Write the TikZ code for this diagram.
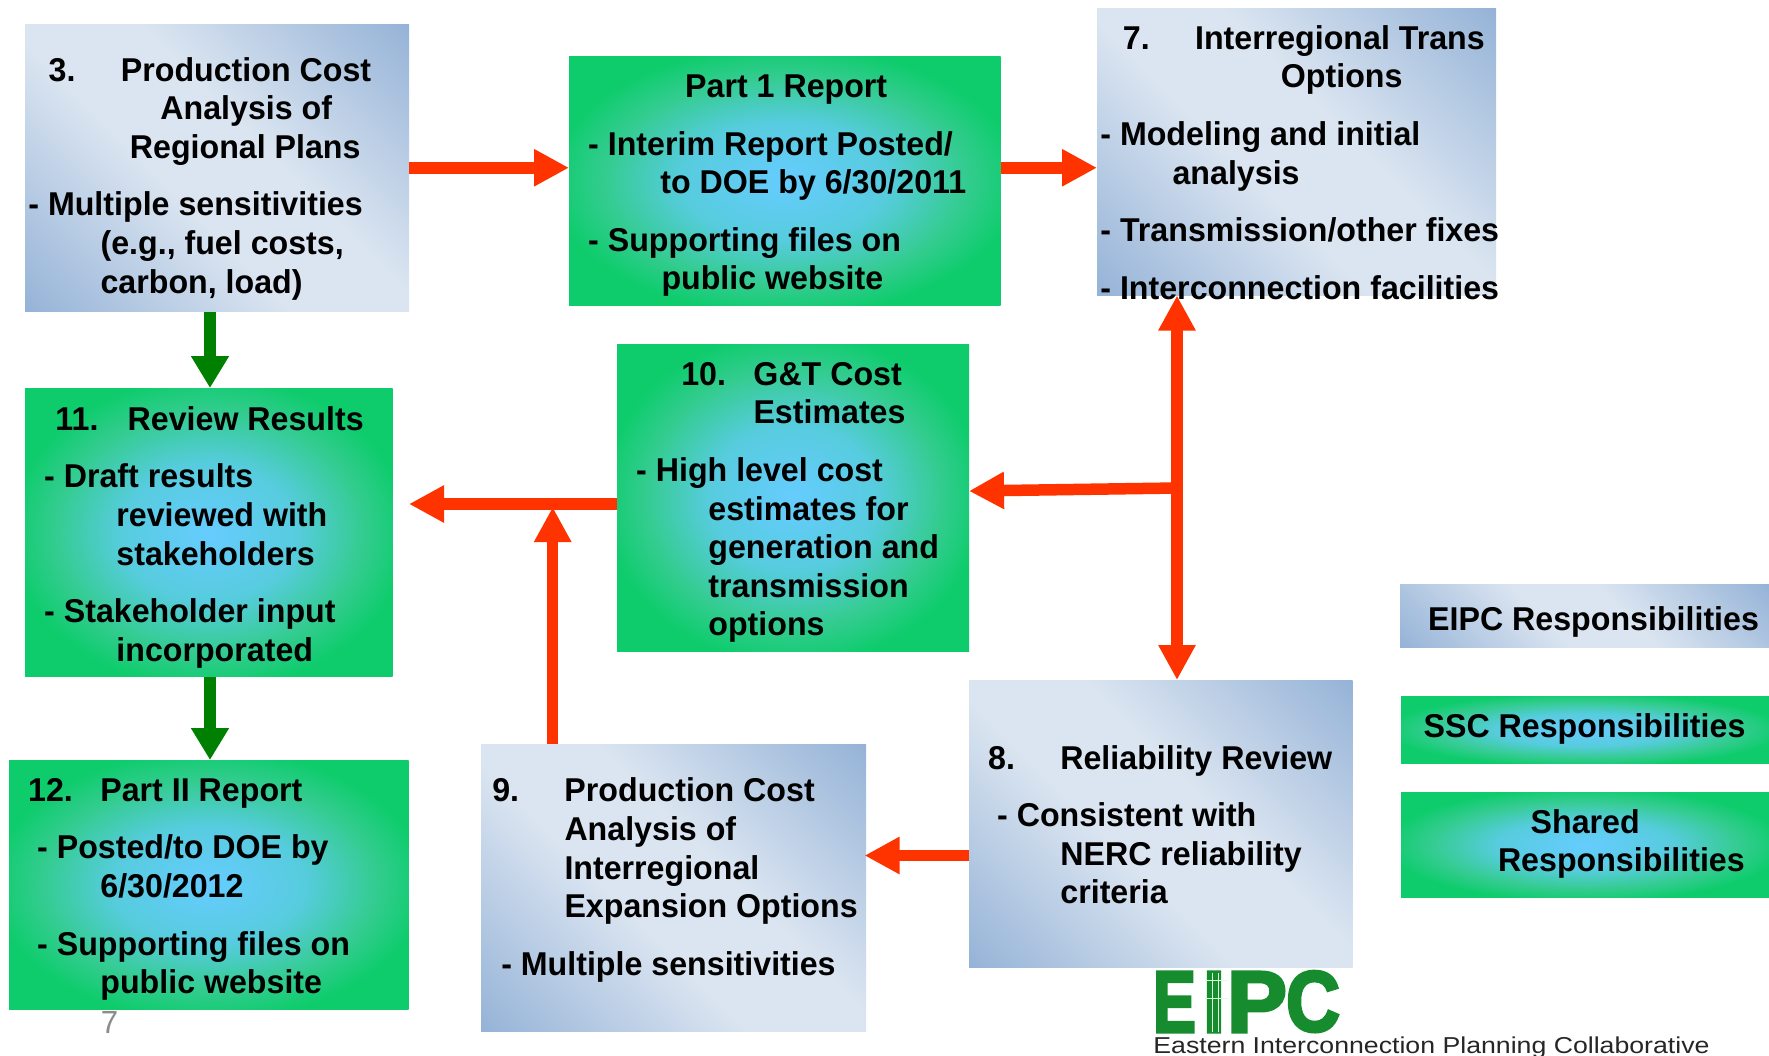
\documentclass[tikz,border=0pt]{standalone}
\usepackage{graphicx}
\usepackage{fontspec}
\usetikzlibrary{arrows.meta,calc}
\setmainfont[FakeStretch=0.975]{Liberation Sans}
\newfontfamily\logotextfont[FakeStretch=1.16]{Liberation Sans}
\newfontfamily\logofont[BoldFeatures={FakeBold=3.5}]{Liberation Sans}
\definecolor{bluedark}{HTML}{95B3D7}
\definecolor{bluelight}{HTML}{DBE5F1}
\definecolor{gcen}{HTML}{66CCFF}
\definecolor{gmid}{HTML}{33CC8F}
\definecolor{gedge}{HTML}{0ECC6C}
\definecolor{arrred}{HTML}{FF3300}
\definecolor{arrgreen}{HTML}{008000}
\definecolor{logogreen}{HTML}{168C2E}
\pgfdeclareverticalshading{bluediag}{100bp}{color(0bp)=(bluedark); color(14.6bp)=(bluedark); color(43bp)=(bluelight); color(57bp)=(bluelight); color(85.4bp)=(bluedark); color(100bp)=(bluedark)}
\pgfdeclareradialshading{greenrad}{\pgfpoint{0bp}{0bp}}{color(0bp)=(gcen); color(12bp)=(gcen!70!gmid); color(21bp)=(gmid); color(27bp)=(gedge); color(100bp)=(gedge)}
\newdimen\uu \uu=0.5pt
\newcommand\tbox[4]{\parbox[c][#2\uu][t]{#1\uu}{\setlength\parindent{0pt}\setlength\parskip{0pt}\fontsize{16.5pt}{19.3pt}\bfseries\selectfont\vspace*{\dimexpr#3\uu-27\uu\relax}#4}}
\newcommand\tl[2]{\par\noindent\hspace*{#1\uu}\strut\rlap{#2}}
\newcommand\gp{\par\vspace{19\uu}}
\newcommand\numtab[1]{\makebox[72.2\uu][l]{#1}}
\tikzset{
  x=0.5pt,y=-0.5pt,
  boxnode/.style={inner sep=0pt,outer sep=0pt,anchor=north west,text=black},
  bluebox/.style={boxnode,shading=bluediag,shading angle=-45},
  greenbox/.style={boxnode,shading=greenrad},
  redarrow/.style={draw=arrred,line width=5.75pt,-{Triangle[length=17.5pt,width=17.5pt]}},
  redboth/.style={draw=arrred,line width=5.75pt,{Triangle[length=17.5pt,width=17.5pt]}-{Triangle[length=17.5pt,width=17.5pt]}},
  greenarrow/.style={draw=arrgreen,line width=6pt,-{Triangle[length=16pt,width=18pt]}},
  logoletter/.style={inner sep=0pt,outer sep=0pt,anchor=south west,text=logogreen},
  polemark/.style={draw=white!85!green,line width=0.5pt},
}
\begin{document}
\begin{tikzpicture}
\useasboundingbox (0,0) rectangle (1769,1056);
\node[bluebox] (n3) at (25,24) {\tbox{384}{287.5}{57}{%
  \tl{23.7}{\numtab{3.}Production Cost}
  \tl{135.4}{Analysis of}
  \tl{104.9}{Regional Plans}\gp
  \tl{3.4}{- Multiple sensitivities}
  \tl{75.6}{(e.g., fuel costs,}
  \tl{75.6}{carbon, load)}}};
\node[greenbox] (p1) at (569,56) {\tbox{431.6}{249.5}{41.5}{%
  \tl{116.2}{Part 1 Report}\gp
  \tl{19.2}{- Interim Report Posted/}
  \tl{91.4}{to DOE by 6/30/2011}\gp
  \tl{19.2}{- Supporting files on}
  \tl{92.5}{public website}}};
\node[bluebox] (n7) at (1097,8) {\tbox{399}{287.5}{41.2}{%
  \tl{25.9}{\numtab{7.}Interregional Trans}
  \tl{183.9}{Options}\gp
  \tl{3.4}{- Modeling and initial}
  \tl{75.6}{analysis}\gp
  \tl{3.4}{- Transmission/other fixes}\gp
  \tl{3.4}{- Interconnection facilities}}};
\node[greenbox] (n11) at (25,388) {\tbox{367.6}{288.5}{42.3}{%
  \tl{30.5}{\numtab{11.}Review Results}\gp
  \tl{19.2}{- Draft results}
  \tl{91.4}{reviewed with}
  \tl{91.4}{stakeholders}\gp
  \tl{19.2}{- Stakeholder input}
  \tl{91.4}{incorporated}}};
\node[greenbox] (n10) at (617,344) {\tbox{352}{307.5}{41.2}{%
  \tl{64.3}{\numtab{10.}G\&T Cost}
  \tl{136.5}{Estimates}\gp
  \tl{19.2}{- High level cost}
  \tl{91.4}{estimates for}
  \tl{91.4}{generation and}
  \tl{91.4}{transmission}
  \tl{91.4}{options}}};
\node[greenbox] (n12) at (9,760) {\tbox{399.5}{249.5}{41.2}{%
  \tl{19.2}{\numtab{12.}Part II Report}\gp
  \tl{28.2}{- Posted/to DOE by}
  \tl{91.4}{6/30/2012}\gp
  \tl{28.2}{- Supporting files on}
  \tl{91.4}{public website}}};
\node[bluebox] (n9) at (481,744) {\tbox{385}{287.5}{57.8}{%
  \tl{11.3}{\numtab{9.}Production Cost}
  \tl{83.5}{Analysis of}
  \tl{83.5}{Interregional}
  \tl{83.5}{Expansion Options}\gp
  \tl{20.3}{- Multiple sensitivities}}};
\node[bluebox] (n8) at (969,680) {\tbox{383.6}{287.5}{89}{%
  \tl{19.2}{\numtab{8.}Reliability Review}\gp
  \tl{28.2}{- Consistent with}
  \tl{91.4}{NERC reliability}
  \tl{91.4}{criteria}}};
\node[bluebox] (l1) at (1400,584) {\tbox{369}{63.5}{46.5}{\tl{28.2}{EIPC Responsibilities}}};
\node[greenbox] (l2) at (1401,696) {\tbox{368}{67.5}{41.2}{\tl{22.6}{SSC Responsibilities}}};
\node[greenbox] (l3) at (1401,792) {\tbox{368}{105.5}{41.2}{%
  \tl{129.7}{Shared}
  \tl{97}{Responsibilities}}};
% connector helpers
\coordinate (j) at (1177,488);
\coordinate (t10) at (969,491);
\coordinate (m) at (0,504);
\coordinate (u) at (552.7,507);
\coordinate (h) at (0,855.5);
\coordinate (g) at (210,0);
\coordinate (tip9) at (864.5,855.5);
% connectors
\draw[redarrow] (n3.east) -- (n3.east -| p1.west);
\draw[redarrow] (n3.east -| p1.east) -- (n3.east -| n7.west);
\draw[redboth] (n7.south -| j) -- (n8.north -| j);
\draw[redarrow] (j) -- (t10);
\draw[redarrow] (m -| n10.west) -- (m -| n3.east);
\draw[redarrow] (n9.north -| u) -- (u);
\draw[redarrow] (h -| n8.west) -- (tip9);
\draw[greenarrow] (g |- n3.south) -- (g |- n11.north);
\draw[greenarrow] (g |- n11.south) -- (g |- n12.north);
% page number
\node[inner sep=0pt,anchor=base,text=black!45] (pg) at (109.5,1033) {\fontsize{16pt}{18pt}\selectfont 7};
% logo
\node[logoletter] (le) at (1153,1032) {\resizebox{43\uu}{60\uu}{\logofont\bfseries E}};
\node[logoletter] (li) at (1203,1032) {\resizebox{22\uu}{60\uu}{\logofont\bfseries I}};
\node[logoletter] (lp) at (1227,1032) {\resizebox{60\uu}{60\uu}{\logofont\bfseries P}};
\node[logoletter] (lc) at (1286,1032) {\resizebox{54\uu}{60\uu}{\logofont\bfseries C}};
\draw[polemark] (1212,973) -- (1212,1032);
\draw[polemark] (1218,973) -- (1218,1032);
\draw[polemark] (1205,980) -- (1228,980);
\draw[polemark] (1205,998) -- (1228,998);
\node[inner sep=0pt,anchor=base west,text=black!85] (lt) at (1153,1053) {\logotextfont\fontsize{11.5pt}{13pt}\selectfont Eastern Interconnection Planning Collaborative};
\end{tikzpicture}
\end{document}
